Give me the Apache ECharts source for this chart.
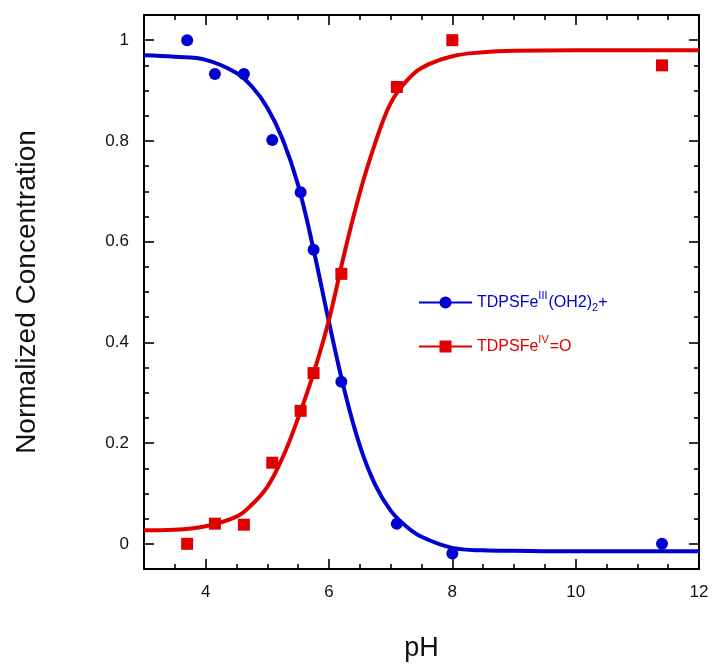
<!DOCTYPE html>
<html>
<head>
<meta charset="utf-8">
<script src="https://cdn.jsdelivr.net/npm/echarts@6/dist/echarts.min.js"></script>
<style>
html,body{margin:0;padding:0;background:#fff;}
#chart{width:712px;height:667px;}
</style>
</head>
<body>
<div id="chart"></div>
<script>
// measured data points
var phPoints = [3.7, 4.15, 4.62, 5.08, 5.54, 5.75, 6.2, 7.1, 8.0, 11.4];
var fe3Values = [1.0, 0.933, 0.933, 0.802, 0.698, 0.584, 0.322, 0.04, -0.019, 0.0];
var fe4Values = [0.0, 0.04, 0.038, 0.161, 0.264, 0.339, 0.536, 0.907, 1.0, 0.95];
// fitted curves
var curvePh = [3, 3.5, 4, 4.5, 4.75, 5, 5.25, 5.5, 5.75, 6, 6.25, 6.5, 6.75, 7, 7.25, 7.5, 8, 8.5, 9, 10, 11, 12];
var fe3Fit = [0.970, 0.967, 0.961, 0.935, 0.908, 0.866, 0.803, 0.712, 0.584, 0.44, 0.305, 0.195, 0.117, 0.066, 0.035, 0.014, -0.008, -0.013, -0.014, -0.015, -0.015, -0.015];
var fe4Fit = [0.027, 0.028, 0.035, 0.054, 0.078, 0.113, 0.172, 0.25, 0.339, 0.445, 0.577, 0.697, 0.796, 0.875, 0.918, 0.945, 0.968, 0.976, 0.979, 0.98, 0.98, 0.98];
// ticks
var xMajorTicks = [4, 6, 8, 10, 12];
var xMinorTicks = [3.5, 4.5, 5, 5.5, 6.5, 7, 7.5, 8.5, 9, 9.5, 10.5, 11, 11.5];
var yMajorTicks = [0, 0.2, 0.4, 0.6, 0.8, 1];
var yMinorTicks = [-0.05, 0.05, 0.1, 0.15, 0.25, 0.3, 0.35, 0.45, 0.5, 0.55, 0.65, 0.7, 0.75, 0.85, 0.9, 0.95, 1.05];

var seriesNames = ['TDPSFe(III)', 'TDPSFe(IV)=O'];
var BLUE = '#0000D0', RED = '#E00000';
var FONT = '"Liberation Sans", Arial, Helvetica, sans-serif';

function pairs(xs, ys){ return xs.map(function(x,i){ return [x, ys[i]]; }); }

function xAxisDef(pos, ticks, len, labels){
  return {
    type:'value', position:pos, min:3, max:12,
    axisLine:{show: len===10, onZero:false, lineStyle:{color:'#000', width:2}},
    axisTick:{show:true, inside:true, length:len, customValues:ticks, lineStyle:{color:'#000', width:1.6}},
    axisLabel: labels ? {show:true, customValues:labels, margin:15, fontSize:17, color:'#111', fontFamily:FONT} : {show:false},
    splitLine:{show:false}
  };
}
function yAxisDef(pos, ticks, len, labels){
  return {
    type:'value', position:pos, min:-0.05, max:1.05,
    axisLine:{show: len===10, onZero:false, lineStyle:{color:'#000', width:2}},
    axisTick:{show:true, inside:true, length:len, customValues:ticks, lineStyle:{color:'#000', width:1.6}},
    axisLabel: labels ? {show:true, customValues:labels, margin:15, fontSize:17, color:'#111', fontFamily:FONT,
      formatter:function(v){ return String(Math.round(v*10)/10); }} : {show:false},
    splitLine:{show:false}
  };
}

var xAxes = [
  xAxisDef('bottom', xMajorTicks, 10, xMajorTicks),
  xAxisDef('bottom', xMinorTicks, 5, null),
  xAxisDef('top', xMajorTicks, 10, null),
  xAxisDef('top', xMinorTicks, 5, null)
];
xAxes[0].name = 'pH';
xAxes[0].nameLocation = 'middle';
xAxes[0].nameGap = 66;
xAxes[0].nameTextStyle = {fontSize:27, color:'#111', fontFamily:FONT};

var yAxes = [
  yAxisDef('left', yMajorTicks, 10, yMajorTicks),
  yAxisDef('left', yMinorTicks, 5, null),
  yAxisDef('right', yMajorTicks, 10, null),
  yAxisDef('right', yMinorTicks, 5, null)
];
yAxes[0].name = 'Normalized Concentration';
yAxes[0].nameLocation = 'middle';
yAxes[0].nameGap = 103;
yAxes[0].nameTextStyle = {fontSize:28, color:'#111', fontFamily:FONT};

function richFor(color){
  return {
    n:{fontSize:16, color:color, fontFamily:FONT},
    sup:{fontSize:11, color:color, fontFamily:FONT, padding:[0,1,14,0]},
    sub:{fontSize:11, color:color, fontFamily:FONT, padding:[10,0,0,0]}
  };
}

var option = {
  backgroundColor:'#fff',
  animation:false,
  grid:{left:144, top:15, right:13, bottom:97, containLabel:false},
  xAxis:xAxes,
  yAxis:yAxes,
  legend:{
    orient:'vertical', left:418, top:290, padding:0, itemWidth:53, itemHeight:15, itemGap:21,
    lineStyle:{width:2},
    data:[
      {name:seriesNames[0], textStyle:{color:BLUE, rich:richFor(BLUE)}},
      {name:seriesNames[1], textStyle:{color:RED, rich:richFor(RED)}}
    ],
    formatter:function(name){
      if(name===seriesNames[0]) return '{n|TDPSFe}{sup|III}{n|(OH2)}{sub|2}{n|+}';
      return '{n|TDPSFe}{sup|IV}{n|=O}';
    }
  },
  series:[
    {name:seriesNames[0], type:'line', data:pairs(curvePh, fe3Fit), smooth:0.4,
     symbol:'circle', showSymbol:false, symbolSize:12, color:BLUE, itemStyle:{color:BLUE},
     lineStyle:{color:BLUE, width:4}, z:2},
    {name:seriesNames[1], type:'line', data:pairs(curvePh, fe4Fit), smooth:0.4,
     symbol:'rect', showSymbol:false, symbolSize:12, color:RED, itemStyle:{color:RED},
     lineStyle:{color:RED, width:4}, z:2},
    {name:'fe3pts', type:'scatter', data:pairs(phPoints, fe3Values), symbol:'circle', symbolSize:12,
     itemStyle:{color:BLUE, opacity:1}, z:3},
    {name:'fe4pts', type:'scatter', data:pairs(phPoints, fe4Values), symbol:'rect', symbolSize:12,
     itemStyle:{color:RED, opacity:1}, z:3}
  ]
};
var chart = echarts.init(document.getElementById('chart'), null, {renderer:'canvas'});
chart.setOption(option);
</script>
</body>
</html>
